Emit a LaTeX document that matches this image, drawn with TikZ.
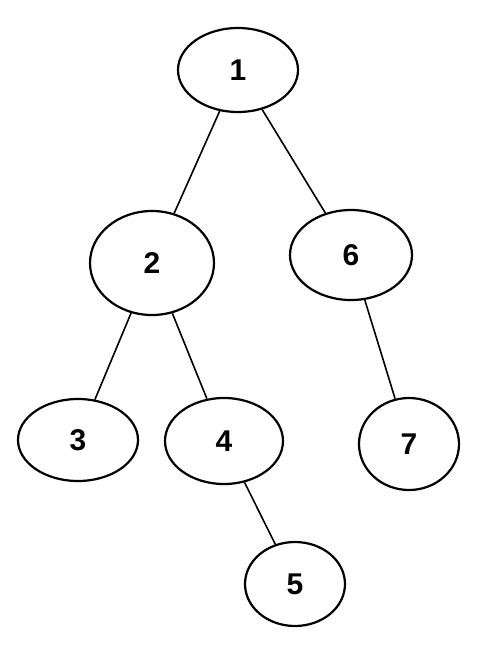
\documentclass[tikz,border=0pt]{standalone}
\usepackage{fontspec}
\setmainfont{Liberation Sans}
\usepackage{tikz}
\usetikzlibrary{shapes.geometric}

\tikzset{
	vertex/.style={draw, ellipse, line width=2.2pt, inner sep=0pt, font=\fontsize{30}{30}\selectfont\bfseries},
	edge/.style={line width=1.6pt}
}

\begin{document}
\begin{tikzpicture}[x=1pt, y=-1pt]
			\useasboundingbox (0, 0) rectangle (478, 649);

			\node[vertex, minimum width=120pt, minimum height=84pt] (v1) at (238, 70) {1};
			\node[vertex, minimum width=124pt, minimum height=104pt] (v2) at (152, 263) {2};
			\node[vertex, minimum width=122pt, minimum height=90pt] (v6) at (351, 255) {6};
			\node[vertex, minimum width=120pt, minimum height=82pt] (v3) at (78, 440) {3};
			\node[vertex, minimum width=118pt, minimum height=86pt] (v4) at (224, 441) {4};
			\node[vertex, minimum width=100pt, minimum height=92pt] (v7) at (409, 444) {7};
			\node[vertex, minimum width=100pt, minimum height=84pt] (v5) at (295, 584) {5};

			\draw[edge] (v1) -- (v2);
			\draw[edge] (v1) -- (v6);
			\draw[edge] (v2) -- (v3);
			\draw[edge] (v2) -- (v4);
			\draw[edge] (v6) -- (v7);
			\draw[edge] (v4) -- (v5);
		\end{tikzpicture}
\end{document}
